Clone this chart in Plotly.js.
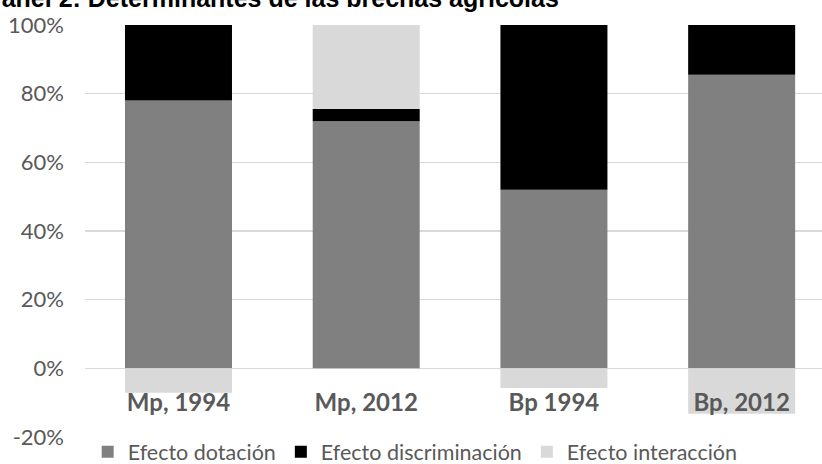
<!DOCTYPE html>
<html>
<head>
<meta charset="utf-8">
<script src="https://cdn.plot.ly/plotly-3.0.1.min.js"></script>
<style>html,body{margin:0;padding:0;background:#fff;}#chart{width:822px;height:464px;}</style>
</head>
<body>
<div id="chart"></div>
<script>
const categories = ["Mp, 1994", "Mp, 2012", "Bp 1994", "Bp, 2012"];
const dotacion = [0.78, 0.72, 0.52, 0.855];
const discriminacion = [0.22, 0.035, 0.48, 0.145];
const interaccion = [-0.071, 0.245, -0.057, -0.132];
const seriesNames = ["Efecto dotación", "Efecto discriminación", "Efecto interacción"];
const yTickVals = [-0.2, 0, 0.2, 0.4, 0.6, 0.8, 1.0];
const yTickText = ["-20%", "0%", "20%", "40%", "60%", "80%", "100%"];
const titleText = "Panel 2: Determinantes de las brechas agrícolas";

const FONT = "Lato, 'Open Sans', sans-serif";
const colors = ["#808080", "#000000", "#d9d9d9"];
const seriesValues = [dotacion, discriminacion, interaccion];

const traces = seriesValues.map((vals, i) => ({
  type: "bar",
  name: seriesNames[i],
  x: categories,
  y: vals,
  width: 0.57,
  marker: { color: colors[i], line: { width: 0 } },
  hoverinfo: "skip"
}));

const layout = {
  width: 822,
  height: 464,
  margin: { l: 85, r: 0, t: 25, b: 27, pad: 0, autoexpand: false },
  paper_bgcolor: "#ffffff",
  plot_bgcolor: "#ffffff",
  barmode: "relative",
  font: { family: FONT, color: "#595959", size: 20 },
  showlegend: true,
  legend: {
    orientation: "h",
    x: 0.448,
    xanchor: "center",
    y: 0.014,
    yanchor: "top",
    traceorder: "normal",
    font: { family: FONT, size: 21.5, color: "#595959" },
    bgcolor: "rgba(0,0,0,0)",
    itemwidth: 30
  },
  xaxis: {
    type: "category",
    range: [-0.498, 3.428],
    anchor: "free",
    position: (0 - yTickVals[0]) / (yTickVals[yTickVals.length - 1] - yTickVals[0]),
    showgrid: false,
    showline: false,
    zeroline: false,
    ticks: "",
    ticklabelstandoff: 18,
    tickfont: { family: FONT, size: 24, color: "#595959", weight: "bold" },
    fixedrange: true
  },
  yaxis: {
    range: [yTickVals[0], yTickVals[yTickVals.length - 1]],
    tickvals: yTickVals,
    ticktext: yTickText,
    showgrid: true,
    gridcolor: "#d9d9d9",
    gridwidth: 1.5,
    zeroline: true,
    zerolinecolor: "#d9d9d9",
    zerolinewidth: 1.5,
    showline: false,
    ticks: "",
    ticklabelstandoff: 20,
    tickfont: { family: FONT, size: 22, color: "#595959" },
    fixedrange: true
  },
  annotations: [{
    text: "<b>" + titleText + "</b>",
    xref: "paper",
    yref: "paper",
    x: (-17 - 85) / 737,
    xanchor: "left",
    y: 1.065,
    yanchor: "middle",
    showarrow: false,
    font: { family: "'Liberation Sans', Arial, sans-serif", size: 25, color: "#000000" }
  }]
};

Plotly.newPlot("chart", traces, layout, { displayModeBar: false, staticPlot: true });
</script>
</body>
</html>
